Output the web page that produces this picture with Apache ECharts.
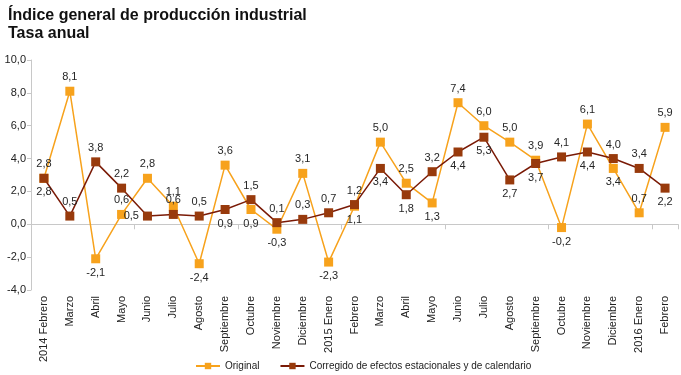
<!DOCTYPE html>
<html>
<head>
<meta charset="utf-8">
<script src="https://cdn.jsdelivr.net/npm/echarts@6/dist/echarts.min.js"></script>
<style>
  html, body { margin: 0; padding: 0; background: #fff; }
  #chart { width: 681px; height: 375px; }
</style>
</head>
<body>
<div id="chart"></div>
<script>
const months = ['2014 Febrero', 'Marzo', 'Abril', 'Mayo', 'Junio', 'Julio', 'Agosto', 'Septiembre', 'Octubre',
  'Noviembre', 'Diciembre', '2015 Enero', 'Febrero', 'Marzo', 'Abril', 'Mayo', 'Junio', 'Julio', 'Agosto',
  'Septiembre', 'Octubre', 'Noviembre', 'Diciembre', '2016 Enero', 'Febrero']
const original = [2.8, 8.1, -2.1, 0.6, 2.8, 1.1, -2.4, 3.6, 0.9, -0.3, 3.1, -2.3, 1.1, 5.0, 2.5, 1.3, 7.4, 6.0, 5.0, 3.9, -0.2, 6.1, 3.4, 0.7, 5.9]
const corregido = [2.8, 0.5, 3.8, 2.2, 0.5, 0.6, 0.5, 0.9, 1.5, 0.1, 0.3, 0.7, 1.2, 3.4, 1.8, 3.2, 4.4, 5.3, 2.7, 3.7, 4.1, 4.4, 4.0, 3.4, 2.2]

// label placement per point (t = top, b = bottom, l = left)
const origPos = 'ttbtttbtbbtbbttbttttbtbtt'
const corrPos = 'btttlttbtttttbbtbbbbtbttb'
const posName = { t: 'top', b: 'bottom', l: 'left' }

const fmt = (v) => v.toFixed(1).replace('.', ',')
const build = (vals, pos) => vals.map((v, i) => ({
  value: v,
  label: { position: posName[pos[i]] || 'top' },
}))

const labelStyle = { show: true, color: '#262626', fontSize: 11, fontFamily: 'Liberation Sans', distance: 4,
  formatter: (p) => fmt(p.value) }

const myChart = echarts.init(document.getElementById('chart'))
myChart.setOption({
  animation: false,
  title: {
    text: 'Índice general de producción industrial\nTasa anual',
    left: 3,
    top: 2,
    textStyle: { fontFamily: 'Liberation Sans', fontSize: 16, fontWeight: 'bold', color: '#111', lineHeight: 18 },
  },
  legend: {
    bottom: -1,
    left: 190,
    itemWidth: 24,
    itemHeight: 8,
    itemGap: 20,
    textStyle: { fontFamily: 'Liberation Sans', fontSize: 10, color: '#222' },
    data: ['Original', 'Corregido de efectos estacionales y de calendario'],
  },
  grid: { left: 31, right: 3, top: 60, bottom: 85, containLabel: false },
  xAxis: [
    {
      type: 'category',
      data: months,
      axisLine: { show: false, onZero: false },
      axisTick: { show: false },
      axisLabel: { rotate: 90, interval: 0, margin: 6, fontSize: 11, color: '#222', fontFamily: 'Liberation Sans' },
    },
    {
      type: 'category',
      data: months,
      position: 'bottom',
      axisLine: { show: true, onZero: true, lineStyle: { color: '#c8c8c8' } },
      axisTick: { show: true, length: 5, lineStyle: { color: '#c8c8c8' } },
      axisLabel: { show: false },
    },
  ],
  yAxis: {
    type: 'value',
    min: -4,
    max: 10,
    interval: 2,
    axisLine: { show: true, lineStyle: { color: '#c8c8c8' } },
    axisTick: { show: true, length: 4, lineStyle: { color: '#c8c8c8' } },
    splitLine: { show: false },
    axisLabel: { fontSize: 11, color: '#222', margin: 5, fontFamily: 'Liberation Sans', formatter: (v) => fmt(v) },
  },
  series: [
    {
      name: 'Original',
      type: 'line',
      data: build(original, origPos),
      symbol: 'rect',
      symbolSize: 9,
      lineStyle: { color: '#f7a21c', width: 1.5 },
      itemStyle: { color: '#f7a21c' },
      label: labelStyle,
      z: 2,
    },
    {
      name: 'Corregido de efectos estacionales y de calendario',
      type: 'line',
      data: build(corregido, corrPos),
      symbol: 'rect',
      symbolSize: 9,
      lineStyle: { color: '#7a1a06', width: 1.5 },
      itemStyle: { color: '#983a0c' },
      label: labelStyle,
      z: 3,
    },
  ],
})

window.addEventListener('resize', () => {
  myChart.resize()
})
</script>
</body>
</html>
